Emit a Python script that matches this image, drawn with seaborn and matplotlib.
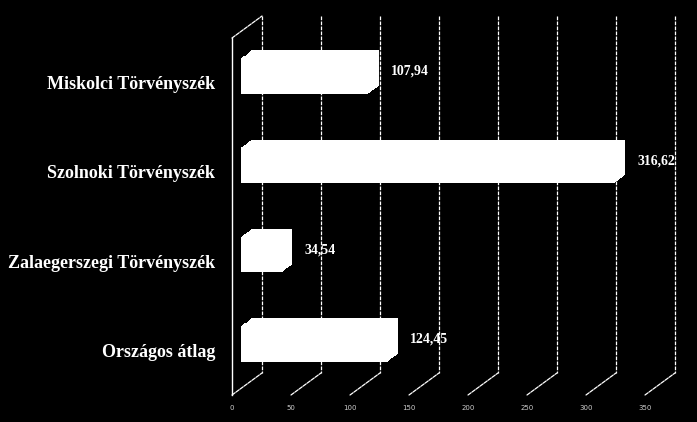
import numpy as np
import matplotlib
matplotlib.use('Agg')
import matplotlib.pyplot as plt
import seaborn as sns
from matplotlib.transforms import ScaledTranslation

categories = ['Miskolci Törvényszék', 'Szolnoki Törvényszék',
              'Zalaegerszegi Törvényszék', 'Országos átlag']
values = [107.94, 316.62, 34.54, 124.45]
value_labels = ['107,94', '316,62', '34,54', '124,45']
xticks = [0, 50, 100, 150, 200, 250, 300, 350]

sns.set_style('white')
plt.rcParams['font.family'] = ['Liberation Serif', 'DejaVu Serif']

fig = plt.figure(figsize=(6.97, 4.22), dpi=100, facecolor='black')
# front plane of the fake 3D box
ax = fig.add_axes([232 / 697, 1 - 395 / 422, 413 / 697, 357 / 422])
ax.set_facecolor('black')

# depth offset of the back wall, in pixels
DX, DY = 30, 22


def shift(f, extra_x=0, extra_y=0):
    return ax.transData + ScaledTranslation((DX * f + extra_x) / 100,
                                            (DY * f + extra_y) / 100,
                                            fig.dpi_scale_trans)


# bars as boxes: stack copies along the depth
for f in np.linspace(0.3, 0.65, 10):
    n = len(ax.patches)
    sns.barplot(x=values, y=categories, orient='h', color='white',
                saturation=1, width=0.4, ax=ax, zorder=3)
    for p in ax.patches[n:]:
        p.set_transform(shift(f))
        p.set_clip_on(False)
        p.set_linewidth(0)

ax.set_xlim(0, 350)
ax.set_ylim(3.5, -0.5)

grid_style = dict(arrowstyle='-', color='white', lw=0.9,
                  shrinkA=0, shrinkB=0, ls=(0, (3, 1)))

# grid on back wall + floor lines
for t in xticks:
    ax.plot([t, t], [-0.5, 3.5], transform=shift(1), color='white', lw=0.9,
            ls=(0, (3, 1)), clip_on=False, zorder=1)
    ax.annotate('', xy=(t, 3.5), xycoords=shift(1), xytext=(t, 3.5),
                textcoords=ax.transData, arrowprops=grid_style)
# top edge of left wall
ax.annotate('', xy=(0, -0.5), xycoords=shift(1), xytext=(0, -0.5),
            textcoords=ax.transData, arrowprops=grid_style)

for i, (v, lab) in enumerate(zip(values, value_labels)):
    ax.text(v, i, lab, transform=shift(0.65, 12, -3), ha='left', va='center',
            color='white', fontsize=10, fontweight='bold')

for s in ['top', 'right', 'bottom']:
    ax.spines[s].set_visible(False)
ax.spines['left'].set_color('white')
ax.spines['left'].set_linewidth(1)

ax.set_xticks(xticks)
ax.set_xticklabels([str(t) for t in xticks], fontsize=5, color='#cccccc',
                   family='DejaVu Sans')
ax.tick_params(axis='x', length=0, pad=7)
ax.set_yticks([0.5, 1.5, 2.5], minor=True)
ax.tick_params(axis='y', which='major', length=0, pad=12)
ax.tick_params(axis='y', which='minor', length=3, color='white')
for lbl in ax.get_yticklabels():
    lbl.set_color('white')
    lbl.set_fontsize(13)
    lbl.set_fontweight('bold')
ax.set_xlabel('')
ax.set_ylabel('')

fig.savefig('out.png', dpi=100, facecolor='black')
